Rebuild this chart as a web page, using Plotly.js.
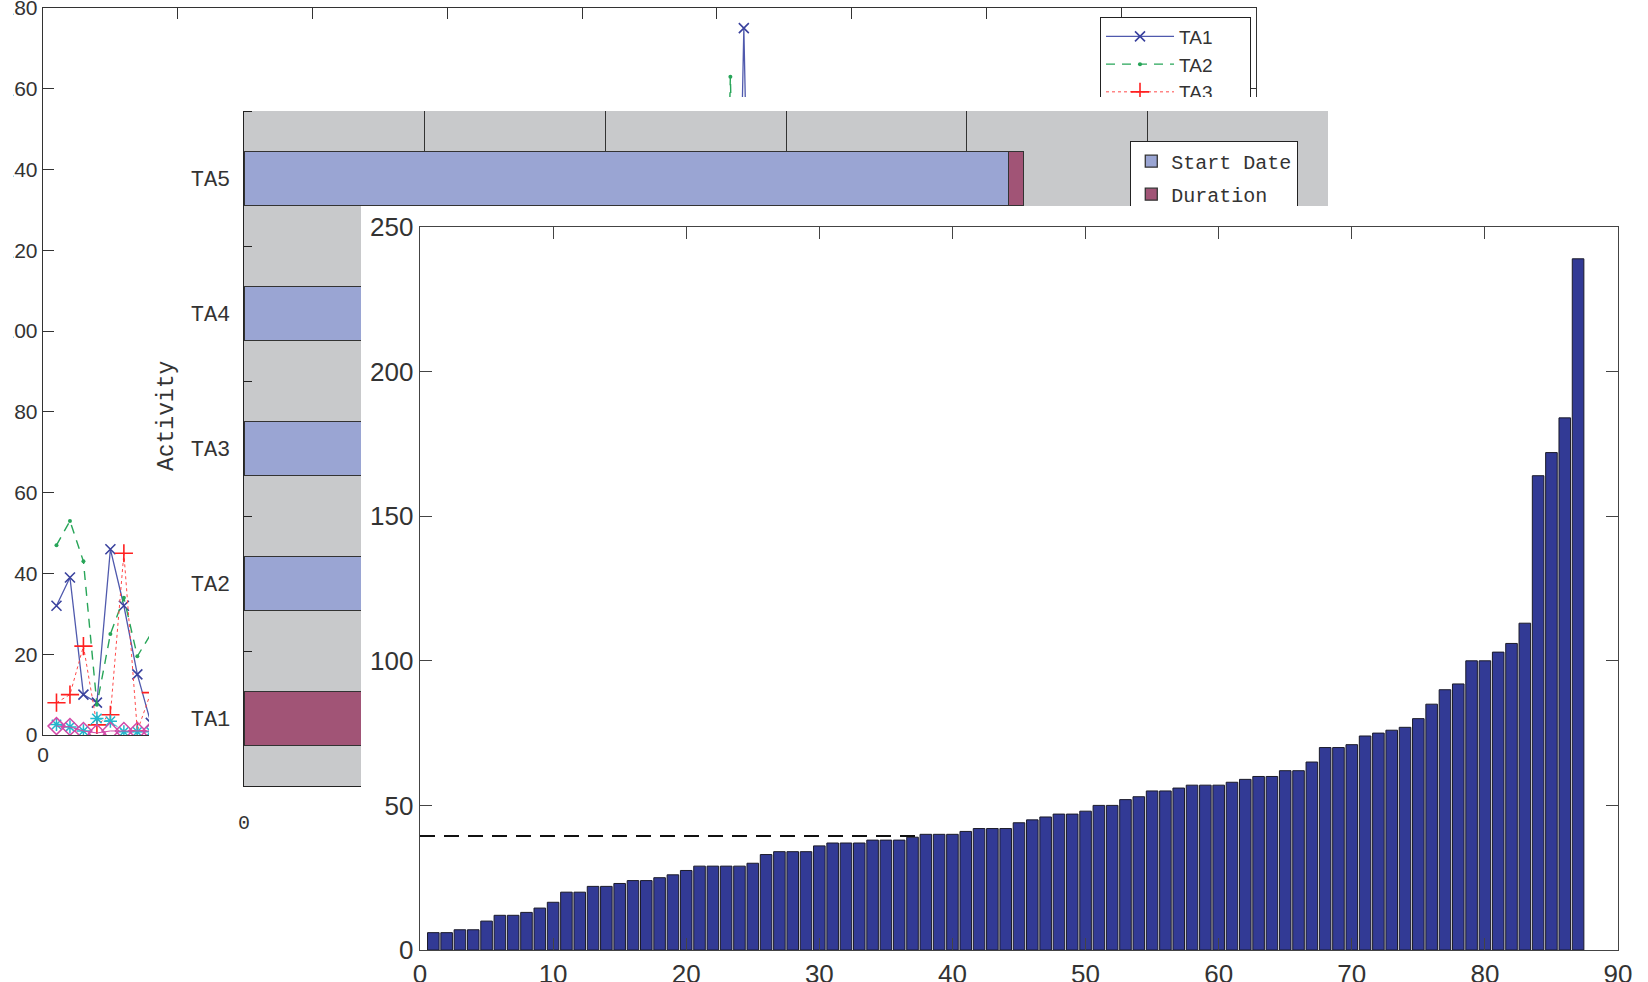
<!DOCTYPE html>
<html>
<head>
<meta charset="utf-8">
<script src="https://cdn.plot.ly/plotly-3.0.1.min.js"></script>
<style>
  html, body { margin:0; padding:0; background:#ffffff; width:1648px; height:982px; overflow:hidden; }
  .layer { position:absolute; overflow:hidden; background:#ffffff; }
  .plot { position:absolute; width:1648px; height:982px; }
</style>
</head>
<body>
<div class="layer" id="layerLine" style="left:13px; top:0px; width:1635px; height:982px; z-index:1;">
  <div class="plot" id="linePlot" style="left:-13px; top:0px;"></div>
</div>
<div class="layer" id="layerGantt" style="left:149px; top:97px; width:1499px; height:885px; z-index:2;">
  <div class="plot" id="ganttPlot" style="left:-149px; top:-97px;"></div>
</div>
<div class="layer" id="layerBar" style="left:361px; top:206px; width:1287px; height:776px; z-index:3;">
  <div class="plot" id="barPlot" style="left:-361px; top:-206px;"></div>
</div>
<script>
// ---------- Data: back line chart ----------
const lineX   = [1, 2, 3, 4, 5, 6, 7, 8, 50, 51, 52, 53];
const lineTA1 = [32, 39, 10, 8, 46, 32, 15, 3, 8, 10, 175, 12];
const lineTA2 = [47, 53, 43, 7.5, 25, 34, 19.5, 25, 15, 163, 20, 18];
const lineTA3 = [8, 10, 22, 2.5, 5, 45, 1, 10.5, 5, 6, 8, 7];
const lineTA4 = [2.6, 2, 1, 4.1, 3.4, 0.8, 0.8, 0.8, 1, 1, 1, 1];
const lineTA5 = [2.2, 2, 1, 0.5, 1, 1, 1, 1, 1, 1, 1, 1];
const seriesNames = ['TA1', 'TA2', 'TA3', 'TA4', 'TA5'];

// ---------- Data: gantt chart ----------
const activities = ['TA1', 'TA2', 'TA3', 'TA4', 'TA5'];
const activityPos = [1, 2, 3, 4, 5];
const startDates = [0, 10, 22, 31, 42.3];
const durations  = [10, 12, 9, 11, 0.85];

// ---------- Data: front bar chart ----------
const barValues = [6, 6, 7, 7, 10, 12, 12, 13, 14.5, 16.5,
  20, 20, 22, 22, 23, 24, 24, 25, 26, 27.5,
  29, 29, 29, 29, 30, 33, 34, 34, 34, 36,
  37, 37, 37, 38, 38, 38, 39, 40, 40, 40,
  41, 42, 42, 42, 44, 45, 46, 47, 47, 48,
  50, 50, 52, 53, 55, 55, 56, 57, 57, 57,
  58, 59, 60, 60, 62, 62, 65, 70, 70, 71,
  74, 75, 76, 77, 80, 85, 90, 92, 100, 100,
  103, 106, 113, 164, 172, 184, 239];
const barIndex = barValues.map((v, i) => i + 1);
const refLineX = [0, 37.4];
const refLineY = [39.4, 39.4];

const SANS = 'Liberation Sans, Arial, Helvetica, sans-serif';
const MONO = 'Liberation Mono, Courier New, monospace';
const cfg = {staticPlot: true, displayModeBar: false};
// legend entries get a little trailing room so the legend box is as wide as the original
const pad = s => s + '\u00a0\u00a0\u00a0\u00a0\u00a0\u00a0';

// ---------- Line chart ----------
const lineTraces = [
  {x: lineX, y: lineTA1, name: pad(seriesNames[0]), mode: 'lines+markers',
   line: {color: '#4f59ad', width: 1.3},
   marker: {symbol: 'x-thin', size: 10, line: {color: '#3a429e', width: 1.6}}},
  {x: lineX, y: lineTA2, name: pad(seriesNames[1]), mode: 'lines+markers',
   line: {color: '#27a558', width: 1.4, dash: '9px,7px'},
   marker: {symbol: 'circle', size: 4, color: '#27a558'}},
  {x: lineX, y: lineTA3, name: pad(seriesNames[2]), mode: 'lines+markers',
   line: {color: '#ff4a4a', width: 1, dash: 'dot'},
   marker: {symbol: 'cross-thin', size: 13, line: {color: '#ff2020', width: 1.6}}},
  {x: lineX, y: lineTA4, name: pad(seriesNames[3]), mode: 'lines+markers',
   line: {color: '#22b8cc', width: 1, dash: 'dashdot'},
   marker: {symbol: 'asterisk', size: 11, line: {color: '#22b8cc', width: 1.5}}},
  {x: lineX, y: lineTA5, name: pad(seriesNames[4]), mode: 'lines+markers',
   line: {color: '#d24aa8', width: 1},
   marker: {symbol: 'diamond-open', size: 13, line: {color: '#d24aa8', width: 1.5}}}
];
const lineLayout = {
  width: 1648, height: 982,
  margin: {l: 43, r: 392, t: 8, b: 247, pad: 0},
  paper_bgcolor: '#ffffff', plot_bgcolor: '#ffffff',
  font: {family: SANS, size: 21, color: '#333333'},
  showlegend: true,
  legend: {x: 0.8714, y: 0.9882, xanchor: 'left', yanchor: 'top',
    bgcolor: '#ffffff', bordercolor: '#222222', borderwidth: 1, itemwidth: 68,
    font: {family: SANS, size: 19, color: '#333333'}, traceorder: 'normal'},
  xaxis: {range: [0, 90], tick0: 0, dtick: 10, ticks: 'inside', ticklen: 11,
    tickcolor: '#333', showline: true, linecolor: '#333', linewidth: 1.3,
    mirror: 'ticks', showgrid: false, zeroline: false, ticklabeloverflow: 'allow',
    tickfont: {family: SANS, size: 21, color: '#333'}},
  yaxis: {range: [0, 180], tick0: 0, dtick: 20, ticks: 'inside', ticklen: 11,
    tickcolor: '#333', showline: true, linecolor: '#333', linewidth: 1.3,
    mirror: 'ticks', showgrid: false, zeroline: false, ticklabeloverflow: 'allow',
    tickfont: {family: SANS, size: 21, color: '#333'}}
};
Plotly.newPlot('linePlot', lineTraces, lineLayout, cfg);

// ---------- Gantt chart ----------
const ganttTraces = [
  {type: 'bar', orientation: 'h', y: activityPos, x: startDates, name: 'Start Date',
   legendgroup: 'start', width: 0.4,
   marker: {color: '#9aa5d3', line: {color: '#333333', width: 1.3}}},
  {type: 'bar', orientation: 'h', y: activityPos, x: durations, name: 'Duration',
   legendgroup: 'dur', width: 0.4,
   marker: {color: '#a15476', line: {color: '#333333', width: 1.3}}}
];
const ganttLayout = {
  width: 1648, height: 982, barmode: 'stack',
  margin: {l: 244, r: 320, t: 111, b: 196, pad: 0},
  paper_bgcolor: '#ffffff', plot_bgcolor: '#c8c9cb',
  font: {family: MONO, size: 20, color: '#333'},
  showlegend: true,
  legend: {x: 0.8176, y: 0.956, xanchor: 'left', yanchor: 'top',
    bgcolor: '#ffffff', bordercolor: '#222222', borderwidth: 1, traceorder: 'grouped',
    tracegroupgap: 4, itemwidth: 30, font: {family: MONO, size: 20, color: '#333'}},
  xaxis: {range: [0, 60], tick0: 0, dtick: 10, ticks: '', showgrid: true,
    gridcolor: '#333333', gridwidth: 1, showline: true, linecolor: '#222', linewidth: 1.3,
    zeroline: false, ticklabelstandoff: 18,
    tickfont: {family: MONO, size: 20, color: '#333'}},
  yaxis: {range: [0.5, 5.5], tickmode: 'array', tickvals: activityPos, ticktext: activities,
    ticks: '', showgrid: false, zeroline: false, showline: true, linecolor: '#222', linewidth: 1.3,
    ticklabelstandoff: 8,
    minor: {tickmode: 'array', tickvals: [1.5, 2.5, 3.5, 4.5, 5.5], ticks: 'inside',
      ticklen: 8, tickcolor: '#222', showgrid: false},
    tickfont: {family: MONO, size: 22, color: '#333'}},
  annotations: [{text: 'Activity', xref: 'paper', yref: 'paper', x: -0.0717, y: 0.5485,
    xanchor: 'center', yanchor: 'middle', textangle: -90, showarrow: false,
    font: {family: MONO, size: 23, color: '#333'}}]
};
Plotly.newPlot('ganttPlot', ganttTraces, ganttLayout, cfg);

// ---------- Front bar chart ----------
const barTraces = [
  {type: 'bar', x: barIndex, y: barValues, name: 'values',
   marker: {color: '#323a95', line: {color: '#1b1b2a', width: 1}}},
  {type: 'scatter', mode: 'lines', x: refLineX, y: refLineY, name: 'ref',
   line: {color: '#111111', width: 2, dash: '15px,9px'}}
];
const barLayout = {
  width: 1648, height: 982, bargap: 0.13, showlegend: false,
  margin: {l: 420, r: 30, t: 227, b: 32, pad: 0},
  paper_bgcolor: '#ffffff', plot_bgcolor: '#ffffff',
  font: {family: SANS, size: 26, color: '#333'},
  xaxis: {range: [0, 90], tick0: 0, dtick: 10, ticks: 'inside', ticklen: 12,
    tickcolor: '#444', showline: true, linecolor: '#444', linewidth: 1.3,
    mirror: 'ticks', showgrid: false, zeroline: false,
    tickfont: {family: SANS, size: 26, color: '#333'}},
  yaxis: {range: [0, 250], tick0: 0, dtick: 50, ticks: 'inside', ticklen: 12,
    tickcolor: '#444', showline: true, linecolor: '#444', linewidth: 1.3,
    mirror: 'ticks', showgrid: false, zeroline: false,
    tickfont: {family: SANS, size: 26, color: '#333'}}
};
Plotly.newPlot('barPlot', barTraces, barLayout, cfg);
</script>
</body>
</html>
